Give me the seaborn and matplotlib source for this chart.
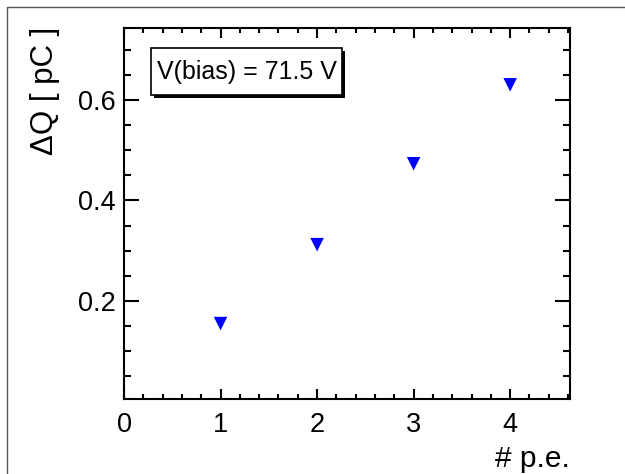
import matplotlib
matplotlib.use("Agg")
import matplotlib.pyplot as plt
import seaborn as sns
import pandas as pd
from matplotlib.lines import Line2D
from matplotlib.patches import Rectangle
from matplotlib.ticker import MultipleLocator

# data
n_pe = [1, 2, 3, 4]
delta_q = [0.155, 0.312, 0.473, 0.630]
legend_text = "V(bias) = 71.5 V"

sns.set_style("white")
plt.rcParams['font.family'] = ['Liberation Sans', 'DejaVu Sans']
plt.rcParams['text.color'] = 'black'

W, H = 625, 474
fig = plt.figure(figsize=(6.25, 4.74), dpi=100)
ax = fig.add_axes([124 / W, 1 - 399 / H, (570 - 124) / W, (399 - 28) / H])

df = pd.DataFrame({"n_pe": n_pe, "dq": delta_q})
sns.scatterplot(data=df, x="n_pe", y="dq", marker="v", s=95, color=(0, 0, 1),
                edgecolor="none", ax=ax)

ax.set_xlim(0, 4.62)
ax.set_ylim(0.005, 0.743)
ax.xaxis.set_major_locator(MultipleLocator(1))
ax.xaxis.set_minor_locator(MultipleLocator(0.2))
ax.yaxis.set_major_locator(MultipleLocator(0.2))
ax.yaxis.set_minor_locator(MultipleLocator(0.05))
ax.set_yticks([0.2, 0.4, 0.6])
ax.set_xlabel("")
ax.set_ylabel("")

for sp in ax.spines.values():
    sp.set_linewidth(1.5)
    sp.set_color("black")
ax.tick_params(axis="both", which="both", direction="in", top=True, right=True,
               bottom=True, left=True, width=1.5, colors="black", labelsize=19.5)
ax.tick_params(axis="x", which="major", length=7.5, pad=9)
ax.tick_params(axis="x", which="minor", length=3.8)
ax.tick_params(axis="y", which="major", length=10.5, pad=6)
ax.tick_params(axis="y", which="minor", length=5)

# axis titles, ROOT style (aligned to the ends)
fig.text(45 / W, 1 - 27 / H, "\u0394Q [ pC ]", rotation=90, ha="center", va="top",
         fontsize=22.5, color="black")
fig.text(570 / W, 1 - 467 / H, "# p.e.", ha="right", va="baseline", fontsize=21.5,
         color="black")

# legend box with a shadow
bx0, by0, bx1, by1 = 151, 48, 342, 95
shadow = Rectangle(((bx0 + 3) / W, 1 - (by1 + 3) / H), (bx1 - bx0) / W, (by1 - by0) / H,
                   transform=fig.transFigure, facecolor="black", linewidth=0, zorder=5)
box = Rectangle((bx0 / W, 1 - by1 / H), (bx1 - bx0) / W, (by1 - by0) / H,
                transform=fig.transFigure, facecolor="white", edgecolor="black",
                linewidth=1.2, zorder=6)
fig.patches.extend([shadow, box])
fig.text((bx0 + bx1) / 2 / W, 1 - 72 / H, legend_text, ha="center", va="center",
         fontsize=18, color="black", zorder=7)

# canvas frame (top and left edges visible)
fig.add_artist(Line2D([7 / W, 1], [1 - 6.5 / H, 1 - 6.5 / H], transform=fig.transFigure,
                      color="#555555", linewidth=1))
fig.add_artist(Line2D([7 / W, 7 / W], [0, 1 - 6.5 / H], transform=fig.transFigure,
                      color="#555555", linewidth=1))

fig.savefig("out.png", dpi=100)
